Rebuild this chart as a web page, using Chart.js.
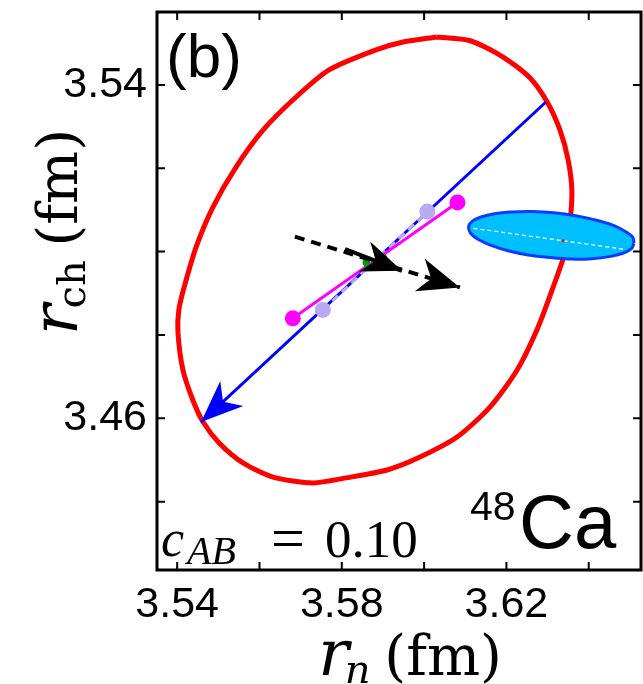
<!DOCTYPE html>
<html>
<head>
<meta charset="utf-8">
<script src="https://cdn.jsdelivr.net/npm/chart.js@4.4.1/dist/chart.umd.min.js"></script>
<style>
  html, body { margin: 0; padding: 0; background: #fff; }
  #wrap { width: 643px; height: 684px; }
</style>
</head>
<body>
<div id="wrap"><canvas id="chart" width="643" height="684"></canvas></div>
<script>
// axis ranges and ticks (fm)
const xRange = [3.5351, 3.6527];
const yRange = [3.4236, 3.5575];
const xTickValues = [3.54, 3.56, 3.58, 3.60, 3.62, 3.64];
const xTickLabels = ['3.54', '', '3.58', '', '3.62', ''];
const yTickValues = [3.44, 3.46, 3.48, 3.50, 3.52, 3.54];
const yTickLabels = ['', '3.46', '', '', '', '3.54'];

// red error ellipse
const redEllipse = [
    [3.6031, 3.5515], [3.6112, 3.5506], [3.6192, 3.5467], [3.6257, 3.5417],
    [3.6299, 3.5359], [3.6330, 3.5292], [3.6350, 3.5220], [3.6359, 3.5148],
    [3.6355, 3.5076], [3.6342, 3.4997], [3.6311, 3.4908], [3.6274, 3.4812],
    [3.6226, 3.4716], [3.6160, 3.4627], [3.6080, 3.4555], [3.5990, 3.4507],
    [3.5910, 3.4476], [3.5810, 3.4457], [3.5730, 3.4445], [3.5633, 3.4459],
    [3.5560, 3.4493], [3.5502, 3.4541], [3.5463, 3.4591], [3.5438, 3.4644],
    [3.5414, 3.4716], [3.5402, 3.4805], [3.5404, 3.4860], [3.5417, 3.4915],
    [3.5446, 3.5011], [3.5487, 3.5107], [3.5543, 3.5203], [3.5609, 3.5292],
    [3.5689, 3.5371], [3.5769, 3.5436], [3.5883, 3.5484], [3.5949, 3.5503],
    [3.6031, 3.5515]
];

// experimental (cyan) ellipse
const cyanEllipse = [
    [3.6510, 3.5020], [3.6504, 3.5007], [3.6483, 3.4996], [3.6450, 3.4988],
    [3.6407, 3.4983], [3.6357, 3.4982], [3.6305, 3.4986], [3.6253, 3.4992],
    [3.6204, 3.5002], [3.6163, 3.5015], [3.6132, 3.5029], [3.6113, 3.5044],
    [3.6108, 3.5059], [3.6116, 3.5072], [3.6138, 3.5083], [3.6171, 3.5091],
    [3.6213, 3.5095], [3.6263, 3.5096], [3.6315, 3.5093], [3.6368, 3.5086],
    [3.6416, 3.5076], [3.6457, 3.5064], [3.6488, 3.5049], [3.6507, 3.5035],
    [3.6510, 3.5020]
];
const cyanAxis = [[3.6120, 3.5056], [3.6484, 3.5006]];
const cyanCenter = [[3.6338, 3.5026]];

const blueLine = [[3.6296, 3.5359], [3.5458, 3.4591]];
const lavenderPoints = [[3.5754, 3.4860], [3.6008, 3.5096]];
const magentaPoints = [[3.5681, 3.4840], [3.6081, 3.5118]];
const greenPoints = [[3.5860, 3.4974], [3.5901, 3.4984]];
const dashedArrow = [[3.5686, 3.5036], [3.6087, 3.4914]];
const solidArrow = [[3.5808, 3.5006], [3.5946, 3.4954]];

function pts(arr) {
    return arr.map(([x, y]) => ({ x, y }));
}

// arrow heads at the end of some lines
const arrowPlugin = {
    id: 'arrows',
    afterDatasetDraw(chart, args) {
        const ds = chart.data.datasets[args.index];
        if (!ds.arrowHead) return;
        const el = args.meta.data;
        const a = el[el.length - 2], b = el[el.length - 1];
        const dx = b.x - a.x, dy = b.y - a.y;
        const len = Math.hypot(dx, dy);
        const ux = dx / len, uy = dy / len;
        const nx = -uy, ny = ux;
        const { length, width, notch } = ds.arrowHead;
        const ctx = chart.ctx;
        ctx.save();
        ctx.fillStyle = ds.borderColor;
        ctx.beginPath();
        ctx.moveTo(b.x, b.y);
        ctx.lineTo(b.x - ux * length + nx * width, b.y - uy * length + ny * width);
        ctx.lineTo(b.x - ux * notch, b.y - uy * notch);
        ctx.lineTo(b.x - ux * length - nx * width, b.y - uy * length - ny * width);
        ctx.closePath();
        ctx.fill();
        ctx.restore();
    }
};

// frame, inward ticks and the texts
const framePlugin = {
    id: 'frame',
    afterDraw(chart) {
        const ctx = chart.ctx;
        const ca = chart.chartArea;
        const xs = chart.scales.x, ys = chart.scales.y;
        ctx.save();
        ctx.strokeStyle = '#000';
        ctx.lineWidth = 2;
        xTickValues.forEach(v => {
            const px = xs.getPixelForValue(v);
            ctx.beginPath();
            ctx.moveTo(px, ca.bottom); ctx.lineTo(px, ca.bottom - 8);
            ctx.moveTo(px, ca.top); ctx.lineTo(px, ca.top + 8);
            ctx.stroke();
        });
        yTickValues.forEach(v => {
            const py = ys.getPixelForValue(v);
            ctx.beginPath();
            ctx.moveTo(ca.left, py); ctx.lineTo(ca.left + 8, py);
            ctx.moveTo(ca.right, py); ctx.lineTo(ca.right - 8, py);
            ctx.stroke();
        });
        ctx.lineWidth = 3;
        ctx.strokeRect(ca.left, ca.top, ca.right - ca.left, ca.bottom - ca.top);

        ctx.fillStyle = '#000';
        ctx.textBaseline = 'alphabetic';
        ctx.textAlign = 'left';

        ctx.font = '62px "Liberation Sans"';
        ctx.fillText('(b)', ca.left + 9, ca.top + 65);

        ctx.font = '41px "Liberation Sans"';
        ctx.fillText('48', ca.right - 171, ca.bottom - 50);
        ctx.font = '76px "Liberation Sans"';
        ctx.fillText('Ca', ca.right - 122, ca.bottom - 22);

        ctx.font = 'italic 52px "Liberation Serif"';
        ctx.fillText('c', ca.left + 4, ca.bottom - 14);
        ctx.font = 'italic 40px "Liberation Serif"';
        ctx.fillText('AB', ca.left + 30, ca.bottom - 6);
        ctx.font = '60px "Liberation Serif"';
        ctx.fillText('=', ca.left + 114, ca.bottom - 12);
        ctx.font = '53px "Liberation Serif"';
        ctx.fillText('0.10', ca.left + 168, ca.bottom - 13);

        // x title
        drawTitle(ctx, 414, ca.bottom + 105, 'n', true);
        // y title
        ctx.save();
        ctx.translate(77, 228);
        ctx.rotate(-Math.PI / 2);
        drawTitle(ctx, 0, 0, 'ch', false);
        ctx.restore();
        ctx.restore();
    }
};

function drawTitle(ctx, cx, base, sub, subItalic) {
    const fr = 'italic 64px "DejaVu Serif"';
    const fs = (subItalic ? 'italic ' : '') + '40px "DejaVu Serif"';
    const fu = '56px "DejaVu Serif"';
    ctx.font = fr; const wr = ctx.measureText('r').width;
    ctx.font = fs; const ws = ctx.measureText(sub).width;
    ctx.font = fu; const wu = ctx.measureText(' (fm)').width;
    let x = cx - (wr + ws + wu) / 2;
    ctx.font = fr; ctx.fillText('r', x, base); x += wr - 4;
    ctx.font = fs; ctx.fillText(sub, x, base + 8); x += ws - 4;
    ctx.font = fu; ctx.fillText(' (fm)', x, base);
}

const lavender = '#b9a9f7';

// keep the plot frame where it is: no extra room for edge labels
function noEdgePadding(s) {
    s.paddingLeft = 0; s.paddingRight = 0;
    s.paddingTop = 0; s.paddingBottom = 0;
}

new Chart(document.getElementById('chart'), {
    type: 'scatter',
    data: {
        datasets: [
            { data: pts(redEllipse), showLine: true, borderColor: '#ff0000', borderWidth: 5, pointRadius: 0, tension: 0.25, order: 10 },
            { data: pts(cyanEllipse), showLine: true, fill: 'shape', backgroundColor: '#00bfff', borderColor: '#0a3cff', borderWidth: 3, pointRadius: 0, tension: 0.3, order: 9 },
            { data: pts(cyanAxis), showLine: true, borderColor: '#ffffff', borderWidth: 1.2, borderDash: [4, 3], pointRadius: 0, order: 8 },
            { data: pts(cyanCenter), pointRadius: 1.5, backgroundColor: '#ff0000', borderWidth: 0, order: 7 },
            { data: pts(blueLine), showLine: true, borderColor: '#0000ff', borderWidth: 3, pointRadius: 0, order: 6,
              arrowHead: { length: 42, width: 17, notch: 30 } },
            { data: pts(lavenderPoints), showLine: true, borderColor: lavender, borderWidth: 3, borderDash: [8, 5], pointRadius: 0, order: 5 },
            { data: pts(lavenderPoints), pointRadius: 8, backgroundColor: lavender, borderWidth: 0, order: 4 },
            { data: pts(magentaPoints), showLine: true, borderColor: '#ff00ff', borderWidth: 3, pointRadius: 8, backgroundColor: '#ff00ff', pointBorderWidth: 0, order: 3 },
            { data: pts(greenPoints), pointRadius: 4, backgroundColor: '#00a000', borderWidth: 0, order: 2 },
            { data: pts(dashedArrow), showLine: true, borderColor: '#000000', borderWidth: 4, borderDash: [10, 7], pointRadius: 0, order: 1,
              arrowHead: { length: 42, width: 17, notch: 30 } },
            { data: pts(solidArrow), showLine: true, borderColor: '#000000', borderWidth: 4, pointRadius: 0, order: 0,
              arrowHead: { length: 40, width: 16, notch: 28 } }
        ]
    },
    options: {
        responsive: false,
        animation: false,
        events: [],
        layout: { autoPadding: false, padding: { left: 0, right: 2, top: 12, bottom: 0 } },
        plugins: { legend: { display: false }, tooltip: { enabled: false } },
        scales: {
            x: {
                type: 'linear', min: xRange[0], max: xRange[1],
                grid: { display: false, drawTicks: false }, border: { display: false },
                afterBuildTicks: s => { s.ticks = xTickValues.map(v => ({ value: v })); },
                afterFit: s => { s.height = 114; noEdgePadding(s); },
                ticks: {
                    autoSkip: false, maxRotation: 0, padding: 9, color: '#000',
                    font: { family: 'Liberation Sans', size: 43 },
                    callback: (v, i) => xTickLabels[i]
                }
            },
            y: {
                type: 'linear', min: yRange[0], max: yRange[1],
                grid: { display: false, drawTicks: false }, border: { display: false },
                afterBuildTicks: s => { s.ticks = yTickValues.map(v => ({ value: v })); },
                afterFit: s => { s.width = 157; noEdgePadding(s); },
                ticks: {
                    autoSkip: false, padding: 10, color: '#000',
                    font: { family: 'Liberation Sans', size: 43 },
                    callback: (v, i) => yTickLabels[i]
                }
            }
        }
    },
    plugins: [arrowPlugin, framePlugin]
});
</script>
</body>
</html>
